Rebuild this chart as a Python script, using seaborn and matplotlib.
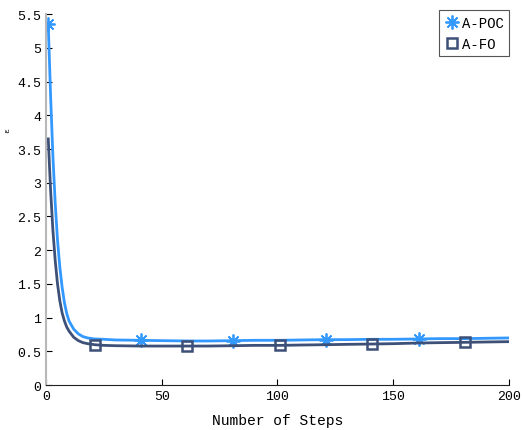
import numpy as np
import pandas as pd
import matplotlib
matplotlib.use('Agg')
import matplotlib.pyplot as plt
import seaborn as sns

steps = [1, 2, 3, 4, 5, 6, 7, 8, 9, 10, 12, 14, 16, 18, 20, 21, 25, 30, 41, 50,
         61, 70, 81, 90, 101, 110, 121, 130, 141, 150, 161, 170, 181, 190, 200]
poc = [5.35, 4.30, 3.40, 2.70, 2.15, 1.75, 1.45, 1.22, 1.06, 0.95, 0.83, 0.76, 0.72, 0.70, 0.69,
       0.685, 0.68, 0.67, 0.665, 0.66, 0.655, 0.655, 0.66, 0.665, 0.665, 0.67, 0.675, 0.675,
       0.68, 0.68, 0.685, 0.69, 0.69, 0.695, 0.70]
fo = [3.65, 2.90, 2.30, 1.85, 1.50, 1.25, 1.07, 0.95, 0.86, 0.80, 0.71, 0.66, 0.63, 0.615, 0.605,
      0.60, 0.59, 0.585, 0.58, 0.58, 0.58, 0.58, 0.585, 0.59, 0.59, 0.595, 0.60, 0.605,
      0.61, 0.615, 0.625, 0.63, 0.635, 0.64, 0.645]
poc_marks = [1, 41, 81, 121, 161]
fo_marks = [21, 61, 101, 141, 181]

df = pd.DataFrame({'step': steps, 'A-POC': poc, 'A-FO': fo})

plt.rcParams['font.family'] = ['Liberation Mono', 'DejaVu Sans Mono']
fig = plt.figure(figsize=(5.22, 4.31), dpi=100)
ax = fig.add_axes([0.088, 0.104, 0.887, 0.861])

c_poc = '#3399ff'
c_fo = '#3d5078'
star = (8, 2, 0)

sns.lineplot(ax=ax, data=df, x='step', y='A-POC', color=c_poc, lw=2,
             marker=star, markersize=10, markeredgewidth=1.3, markeredgecolor=c_poc,
             markevery=[steps.index(s) for s in poc_marks], label='A-POC')
sns.lineplot(ax=ax, data=df, x='step', y='A-FO', color=c_fo, lw=2,
             marker='s', markersize=7.5, markeredgewidth=1.8, markeredgecolor=c_fo,
             markerfacecolor='none',
             markevery=[steps.index(s) for s in fo_marks], label='A-FO')

ax.set_xlim(0, 200)
ax.set_ylim(0, 5.5)
ax.set_xticks([0, 50, 100, 150, 200])
ax.set_yticks(np.arange(0, 5.6, 0.5))
ax.set_yticklabels(['0', '0.5', '1', '1.5', '2', '2.5', '3', '3.5', '4', '4.5', '5', '5.5'])
ax.tick_params(direction='in', labelsize=9.5, length=4, width=0.8, colors='black')
ax.spines['top'].set_visible(False)
ax.spines['right'].set_visible(False)
ax.spines['left'].set_color('#b8b8b8')
ax.spines['left'].set_linewidth(1.5)
ax.spines['bottom'].set_color('#222222')
ax.set_xlabel('Number of Steps', fontsize=10.5)
ax.xaxis.set_label_coords(0.5, -0.075)
ax.set_ylabel('ε', fontsize=6)
ax.yaxis.set_label_coords(-0.075, 0.69)

leg = ax.legend(loc='upper right', fontsize=10, fancybox=False, framealpha=1,
                edgecolor='#555555', handlelength=1.0, handletextpad=0.2,
                borderpad=0.4, labelspacing=0.5, borderaxespad=0.0,
                bbox_to_anchor=(1.0, 1.01))
leg.get_frame().set_linewidth(0.8)
for h in leg.legend_handles:
    h.set_linestyle('none')

fig.savefig('out.png', dpi=100)
